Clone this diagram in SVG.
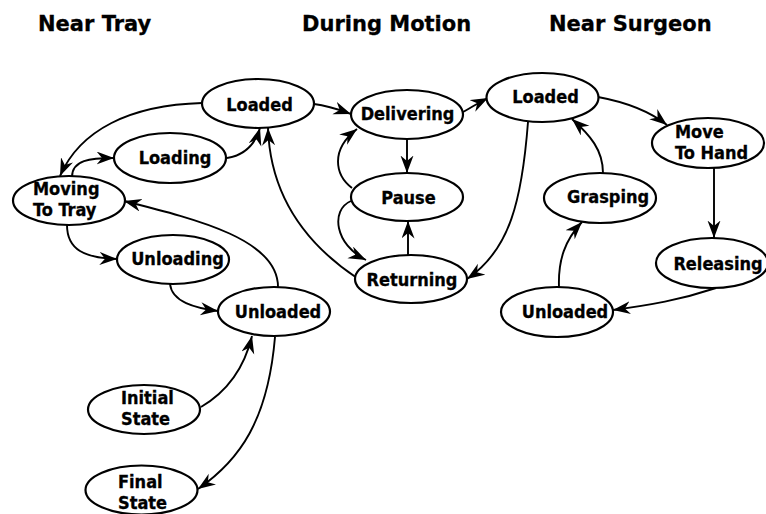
<svg xmlns="http://www.w3.org/2000/svg" width="766" height="514" viewBox="0 0 766 514">
<style>
.title{font-family:"DejaVu Sans","Verdana",sans-serif;font-weight:bold;font-size:21px;fill:#000;stroke:#000;stroke-width:0.3}
.lbl{font-family:"DejaVu Sans Condensed","DejaVu Sans",sans-serif;font-stretch:condensed;font-weight:bold;font-size:18px;fill:#000;stroke:#000;stroke-width:0.3}
.c{text-anchor:middle}
ellipse{fill:#fff;stroke:#000;stroke-width:2.2}
#edges path{fill:none;stroke:#000;stroke-width:1.9;marker-end:url(#arr)}
</style>
<defs>
<marker id="arr" markerUnits="userSpaceOnUse" markerWidth="20" markerHeight="16" refX="17.5" refY="6.5" orient="auto">
<path d="M0,0 L17.5,6.5 L0,13 L5.5,6.5 z" fill="#000"/>
</marker>
</defs>
<rect width="766" height="514" fill="#fff"/>
<text class="title" x="38" y="31">Near Tray</text>
<text class="title" x="302" y="31">During Motion</text>
<text class="title" x="549" y="31">Near Surgeon</text>
<g id="edges">
<path d="M202,103 C130,105 80,130 60,176"/>
<path d="M72,177 C72,160 90,158 114,158"/>
<path d="M227,158 C245,155 255,145 260,128"/>
<path d="M357,278 C300,240 270,190 268,128"/>
<path d="M314,104 C330,106 340,110 351,114"/>
<path d="M407,139 L407,173"/>
<path d="M352,188 C335,175 330,150 357,129"/>
<path d="M351,201 C330,210 335,245 366,260"/>
<path d="M408,255 L408,221"/>
<path d="M463,112 C472,107 480,102 488,98"/>
<path d="M528,122 C522,200 510,250 467,279"/>
<path d="M598,97 C625,102 648,110 667,125"/>
<path d="M714,168 L714,238"/>
<path d="M716,288 C680,300 650,305 613,310"/>
<path d="M559,287 C558,260 565,240 582,222"/>
<path d="M603,173 C603,150 590,135 572,119"/>
<path d="M67,225 C67,250 85,258 117,259"/>
<path d="M170,284 C172,302 195,308 218,311"/>
<path d="M278,287 C278,240 200,220 124,201"/>
<path d="M201,407 C230,390 245,365 252,336"/>
<path d="M275,337 C268,420 240,460 198,489"/>
</g>
<g id="tray-loaded"><ellipse cx="258" cy="103.5" rx="56" ry="24.5"/><text class="lbl c" x="259.5" y="111">Loaded</text></g>
<g id="loading"><ellipse cx="170" cy="158" rx="56" ry="25"/><text class="lbl c" x="175" y="164">Loading</text></g>
<g id="moving-to-tray"><ellipse cx="69" cy="200.5" rx="56" ry="24.5"/><text class="lbl" x="33" y="194.5">Moving</text><text class="lbl" x="33" y="215.5">To Tray</text></g>
<g id="unloading"><ellipse cx="173" cy="259.5" rx="56" ry="24.5"/><text class="lbl c" x="177.5" y="265">Unloading</text></g>
<g id="tray-unloaded"><ellipse cx="274" cy="311.5" rx="56" ry="24.5"/><text class="lbl c" x="278" y="318">Unloaded</text></g>
<g id="initial-state"><ellipse cx="144" cy="409.5" rx="56" ry="24.5"/><text class="lbl" x="121" y="404">Initial</text><text class="lbl" x="121" y="425">State</text></g>
<g id="final-state"><ellipse cx="141.5" cy="490" rx="56" ry="24.5"/><text class="lbl" x="118" y="488">Final</text><text class="lbl" x="118" y="509">State</text></g>
<g id="delivering"><ellipse cx="407" cy="114.5" rx="56" ry="24.5"/><text class="lbl c" x="407.5" y="120">Delivering</text></g>
<g id="pause"><ellipse cx="407" cy="197" rx="56" ry="24"/><text class="lbl c" x="408.5" y="204">Pause</text></g>
<g id="returning"><ellipse cx="411" cy="279" rx="56" ry="24"/><text class="lbl c" x="412" y="286">Returning</text></g>
<g id="surgeon-loaded"><ellipse cx="542.5" cy="97.5" rx="56" ry="24.5"/><text class="lbl c" x="545.5" y="103">Loaded</text></g>
<g id="move-to-hand"><ellipse cx="708" cy="143" rx="56" ry="25"/><text class="lbl" x="675" y="138">Move</text><text class="lbl" x="675" y="159">To Hand</text></g>
<g id="grasping"><ellipse cx="600" cy="198" rx="56" ry="25"/><text class="lbl c" x="608" y="203">Grasping</text></g>
<g id="releasing"><ellipse cx="712" cy="263" rx="56" ry="25"/><text class="lbl c" x="718" y="270">Releasing</text></g>
<g id="surgeon-unloaded"><ellipse cx="557" cy="312" rx="56" ry="25"/><text class="lbl c" x="565" y="318">Unloaded</text></g>
</svg>
